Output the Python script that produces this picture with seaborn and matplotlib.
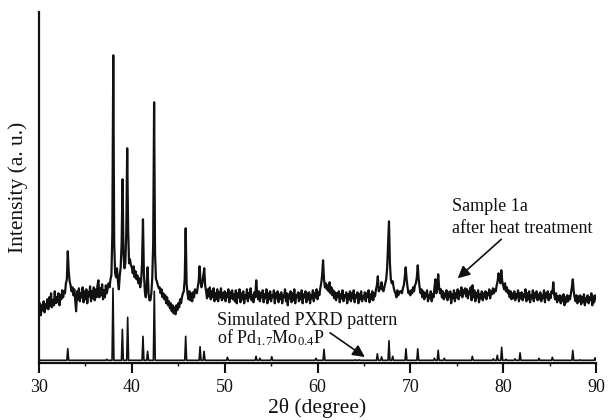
import numpy as np
import pandas as pd
import matplotlib
matplotlib.use("Agg")
import matplotlib.pyplot as plt
import seaborn as sns

# ---------------- data (intensity in arbitrary units) ----------------
two_theta_start = 30.0
two_theta_step = 0.1

# Experimental pattern: sample 1a after heat treatment, 30.0 .. 90.0 step 0.1
exp_intensity = [
    50, 60, 48, 58, 53, 62, 51, 59, 55, 64,      # 30
    54, 66, 57, 70, 56, 63, 58, 72, 60, 66,      # 31
    61, 70, 58, 68, 64, 73, 66, 72, 70, 80,      # 32
    84, 112, 92, 82, 78, 72, 76, 68, 74, 63,     # 33
    52, 72, 64, 75, 62, 70, 66, 76, 61, 72,      # 34
    64, 74, 60, 71, 67, 77, 62, 72, 65, 76,      # 35
    63, 74, 66, 78, 83, 66, 75, 68, 79, 64,      # 36
    73, 66, 78, 70, 75, 80, 76, 84, 88, 130,     # 37
    308, 120, 90, 86, 95, 82, 74, 88, 96, 120,   # 38
    184, 110, 95, 100, 130, 215, 135, 100, 104, 98,  # 39
    96, 90, 97, 86, 92, 84, 88, 80, 85, 76,      # 40
    82, 100, 144, 90, 72, 66, 78, 96, 70, 63,    # 41
    63, 70, 85, 120, 261, 110, 84, 82, 78, 75,   # 42
    76, 70, 74, 66, 70, 64, 68, 60, 66, 58,      # 43
    62, 55, 60, 52, 58, 50, 56, 49, 58, 53,      # 44
    60, 56, 64, 60, 66, 70, 72, 85, 135, 80,     # 45
    70, 64, 72, 63, 70, 62, 71, 66, 74, 72,      # 46
    70, 76, 82, 97, 82, 76, 80, 88, 95, 78,      # 47
    72, 65, 74, 67, 76, 64, 72, 66, 75, 62,      # 48
    70, 64, 74, 62, 71, 66, 75, 63, 70, 65,      # 49
    72, 62, 70, 66, 74, 61, 71, 65, 73, 64,      # 50
    69, 62, 73, 60, 70, 66, 74, 61, 70, 64,      # 51
    72, 60, 68, 65, 74, 62, 70, 66, 75, 63,      # 52
    68, 61, 71, 66, 83, 70, 64, 72, 62, 70,      # 53
    66, 73, 61, 69, 65, 74, 60, 70, 64, 72,      # 54
    62, 68, 66, 73, 60, 70, 65, 72, 61, 69,      # 55
    64, 71, 60, 68, 66, 74, 62, 70, 58, 69,      # 56
    65, 72, 61, 70, 63, 74, 60, 68, 66, 71,      # 57
    62, 70, 64, 73, 60, 69, 66, 72, 61, 70,      # 58
    64, 71, 60, 68, 65, 73, 62, 70, 66, 74,      # 59
    64, 71, 68, 75, 80, 88, 103, 84, 76, 80,     # 60
    74, 78, 72, 81, 70, 76, 68, 73, 65, 71,      # 61
    63, 70, 66, 72, 61, 69, 65, 73, 62, 68,      # 62
    66, 71, 60, 69, 64, 72, 62, 70, 65, 73,      # 63
    61, 68, 66, 71, 60, 69, 64, 72, 62, 67,      # 64
    65, 71, 62, 70, 66, 73, 61, 69, 64, 72,      # 65
    63, 70, 67, 74, 78, 87, 72, 76, 74, 81,      # 66
    74, 72, 76, 80, 84, 95, 118, 142, 100, 84,   # 67
    80, 82, 76, 72, 70, 66, 73, 68, 70, 72,      # 68
    72, 70, 75, 78, 86, 96, 84, 76, 70, 72,      # 69
    68, 73, 70, 76, 72, 78, 80, 86, 98, 84,      # 70
    76, 70, 74, 66, 72, 64, 70, 67, 73, 62,      # 71
    68, 65, 72, 62, 69, 66, 76, 84, 70, 74,      # 72
    89, 76, 70, 74, 66, 72, 64, 70, 66, 73,      # 73
    63, 71, 66, 72, 60, 69, 65, 73, 62, 70,      # 74
    66, 74, 64, 72, 68, 76, 66, 73, 70, 75,      # 75
    67, 74, 65, 72, 69, 76, 63, 78, 66, 73,      # 76
    62, 70, 66, 73, 61, 69, 65, 72, 63, 70,      # 77
    66, 72, 64, 70, 68, 74, 65, 72, 69, 75,      # 78
    70, 74, 72, 78, 82, 90, 84, 80, 93, 82,      # 79
    78, 74, 80, 72, 76, 70, 73, 66, 72, 64,      # 80
    70, 65, 72, 63, 69, 66, 73, 62, 70, 65,      # 81
    71, 63, 69, 66, 74, 62, 70, 64, 72, 61,      # 82
    68, 65, 73, 62, 70, 66, 72, 63, 69, 64,      # 83
    71, 62, 68, 65, 73, 61, 70, 66, 72, 63,      # 84
    69, 65, 72, 70, 81, 68, 64, 70, 61, 67,      # 85
    63, 68, 60, 67, 62, 69, 58, 66, 61, 68,      # 86
    62, 67, 64, 70, 76, 84, 72, 66, 62, 68,      # 87
    60, 67, 62, 68, 59, 66, 61, 69, 58, 65,      # 88
    62, 68, 60, 66, 63, 70, 58, 67, 61, 68,      # 89
    64,                                          # 90
]

# Simulated PXRD pattern of Pd1.7Mo0.4P: reflection positions and heights
sim_positions = [33.1, 37.3, 37.97, 38.98, 39.55, 41.2, 41.7, 42.42, 45.8, 47.35,
                 47.78, 50.3, 53.38, 53.8, 55.07, 59.84, 60.7, 64.04, 64.5, 66.45,
                 66.9, 67.7, 68.1, 69.53, 70.8, 72.6, 73.0, 73.66, 76.68, 78.94,
                 79.37, 79.84, 80.3, 81.28, 81.82, 83.86, 85.3, 87.5, 88.3, 89.9]
sim_heights = [14.6, 4, 75, 34, 46, 27, 12, 72, 27, 16.6,
               12, 6, 7, 5, 6.6, 5, 14, 3.5, 3.5, 9.5,
               6.5, 22.5, 7, 14.5, 14.5, 5, 13, 5, 7, 4.5,
               8, 16, 4, 4.5, 10.5, 5, 6, 13, 3.5, 5.5]
sim_baseline = 3.0

x_ticks = [30, 40, 50, 60, 70, 80, 90]

# ---------------- build tables ----------------
n = len(exp_intensity)
exp_df = pd.DataFrame({
    "two_theta": two_theta_start + two_theta_step * np.arange(n),
    "intensity": exp_intensity,
})

half_w = 0.1
sx, sy = [30.0], [sim_baseline]
for p, h in zip(sim_positions, sim_heights):
    sx += [p - half_w, p, p + half_w]
    sy += [sim_baseline, h, sim_baseline]
sx.append(90.0)
sy.append(sim_baseline)
sim_df = pd.DataFrame({"two_theta": sx, "intensity": sy})

# ---------------- figure ----------------
sns.set_theme(style="ticks")
plt.rcParams["font.family"] = ["Liberation Serif", "DejaVu Serif"]
plt.rcParams["mathtext.fontset"] = "custom"
plt.rcParams["mathtext.rm"] = "Liberation Serif"
plt.rcParams["mathtext.it"] = "Liberation Serif:italic"

fig = plt.figure(figsize=(6.08, 4.2), dpi=100)
ax = fig.add_axes([39 / 608, 1 - 363.3 / 420, (596 - 39) / 608, (363.3 - 12) / 420])

sns.lineplot(data=sim_df, x="two_theta", y="intensity", sort=False, estimator=None,
             color="#111111", lw=1.2, ax=ax)
sns.lineplot(data=exp_df, x="two_theta", y="intensity", sort=False, estimator=None,
             color="#111111", lw=1.6, ax=ax)

ax.set_xlim(30, 90)
ax.set_ylim(0, 351.3)
ax.set_xticks(x_ticks)
ax.set_xticks([35, 45, 55, 65, 75, 85], minor=True)
ax.set_yticks([])
ax.tick_params(axis="x", which="major", direction="out", length=7, width=1.5,
               labelsize=13, colors="#111111", pad=4)
ax.tick_params(axis="x", which="minor", direction="out", length=2.5, width=1.0,
               colors="#111111")
for side in ["top", "right"]:
    ax.spines[side].set_visible(False)
for side in ["left", "bottom"]:
    ax.spines[side].set_linewidth(1.6)
    ax.spines[side].set_color("#111111")

ax.set_xlabel("2θ (degree)", fontsize=15.5, color="#111111", labelpad=2)
ax.set_ylabel("Intensity (a. u.)", fontsize=15.5, color="#111111", labelpad=8)

ax.text(74.5, 152.6, "Sample 1a", fontsize=13, color="#111111",
        va="baseline", ha="left")
ax.text(74.5, 130.6, "after heat treatment", fontsize=13, color="#111111",
        va="baseline", ha="left")
ax.annotate("", xy=(75.1, 85), xytext=(79.8, 124),
            arrowprops=dict(arrowstyle="-|>", color="#111111", lw=1.2,
                            mutation_scale=18, shrinkA=0, shrinkB=0))

ax.text(49.2, 38.3, "Simulated PXRD pattern", fontsize=13, color="#111111",
        va="baseline", ha="left")
ax.text(49.2, 20.3, r"of Pd$_{\rm 1.7}$Mo$_{\rm 0.4}$P", fontsize=13, color="#111111",
        va="baseline", ha="left")
ax.annotate("", xy=(65.1, 6.3), xytext=(61.35, 30.5),
            arrowprops=dict(arrowstyle="-|>", color="#111111", lw=1.2,
                            mutation_scale=18, shrinkA=0, shrinkB=0))

fig.savefig("out.png", dpi=100)
